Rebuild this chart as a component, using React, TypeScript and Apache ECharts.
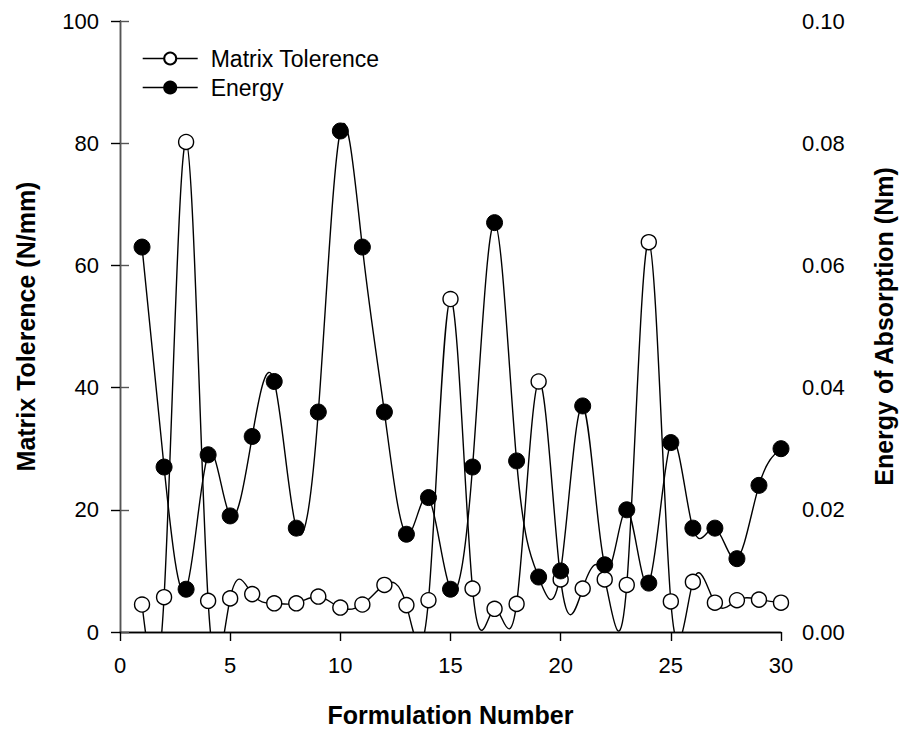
import { useEffect, useRef } from 'react';
import * as echarts from 'echarts';

// Formulation numbers on the x axis
const formulation = [
  1, 2, 3, 4, 5, 6, 7, 8, 9, 10, 11, 12, 13, 14, 15,
  16, 17, 18, 19, 20, 21, 22, 23, 24, 25, 26, 27, 28, 29, 30,
];

// Matrix tolerence (N/mm), left axis
const matrixTolerence = [
  4.5, 5.7, 80.2, 5.1, 5.5, 6.2, 4.7, 4.7, 5.8, 4.0,
  4.5, 7.7, 4.4, 5.2, 54.5, 7.1, 3.8, 4.6, 41.0, 8.6,
  7.1, 8.6, 7.7, 63.8, 5.0, 8.2, 4.8, 5.2, 5.3, 4.8,
];

// Energy of absorption (Nm), right axis
const energy = [
  0.063, 0.027, 0.007, 0.029, 0.019, 0.032, 0.041, 0.017, 0.036, 0.082,
  0.063, 0.036, 0.016, 0.022, 0.007, 0.027, 0.067, 0.028, 0.009, 0.010,
  0.037, 0.011, 0.020, 0.008, 0.031, 0.017, 0.017, 0.012, 0.024, 0.030,
];

const leftTicks = { min: 0, max: 100, interval: 20 };
const rightTicks = { min: 0, max: 0.1, interval: 0.02 };
const xTicks = { min: 0, max: 30, interval: 5 };

const FONT = '"Liberation Sans", Arial, Helvetica, sans-serif';

// Natural cubic spline through the points, returned as one cubic Bezier
// segment per interval: [x0, y0, c1x, c1y, c2x, c2y, x1, y1]
function splineSegments(xs: number[], ys: number[]): number[][] {
  const n = xs.length;
  const h: number[] = [];
  for (let i = 0; i < n - 1; i++) h.push(xs[i + 1] - xs[i]);
  // second derivatives M, with M[0] = M[n-1] = 0
  const M = new Array(n).fill(0);
  const a: number[] = [], b: number[] = [], c: number[] = [], d: number[] = [];
  for (let i = 1; i < n - 1; i++) {
    a.push(h[i - 1]);
    b.push(2 * (h[i - 1] + h[i]));
    c.push(h[i]);
    d.push(6 * ((ys[i + 1] - ys[i]) / h[i] - (ys[i] - ys[i - 1]) / h[i - 1]));
  }
  const m = b.length;
  for (let i = 1; i < m; i++) {
    const w = a[i] / b[i - 1];
    b[i] -= w * c[i - 1];
    d[i] -= w * d[i - 1];
  }
  const sol = new Array(m).fill(0);
  for (let i = m - 1; i >= 0; i--) {
    sol[i] = (d[i] - (i < m - 1 ? c[i] * sol[i + 1] : 0)) / b[i];
  }
  for (let i = 0; i < m; i++) M[i + 1] = sol[i];

  const segs: number[][] = [];
  for (let i = 0; i < n - 1; i++) {
    const hi = h[i];
    const s = (ys[i + 1] - ys[i]) / hi;
    const dL = s - (hi * (2 * M[i] + M[i + 1])) / 6;
    const dR = s + (hi * (M[i] + 2 * M[i + 1])) / 6;
    segs.push([
      xs[i], ys[i],
      xs[i] + hi / 3, ys[i] + (dL * hi) / 3,
      xs[i + 1] - hi / 3, ys[i + 1] - (dR * hi) / 3,
      xs[i + 1], ys[i + 1],
    ]);
  }
  return segs;
}

function curveSeries(ys: number[], yAxisIndex: number) {
  return {
    type: 'custom',
    yAxisIndex,
    clip: true,
    silent: true,
    z: 2,
    data: splineSegments(formulation, ys),
    renderItem: (_params: any, api: any) => {
      const p0 = api.coord([api.value(0), api.value(1)]);
      const c1 = api.coord([api.value(2), api.value(3)]);
      const c2 = api.coord([api.value(4), api.value(5)]);
      const p1 = api.coord([api.value(6), api.value(7)]);
      return {
        type: 'bezierCurve',
        shape: {
          x1: p0[0], y1: p0[1],
          cpx1: c1[0], cpy1: c1[1],
          cpx2: c2[0], cpy2: c2[1],
          x2: p1[0], y2: p1[1],
        },
        style: { stroke: '#000', lineWidth: 1.4, fill: 'none' },
      };
    },
  };
}

export default function App() {
  const ref = useRef<HTMLDivElement>(null);

  useEffect(() => {
    if (!ref.current) return;
    const chart = echarts.init(ref.current, undefined, { renderer: 'svg' });

    const axisLine = { show: true, lineStyle: { color: '#000', width: 1.4 } };
    const axisTick = { show: true, inside: false, length: 9, lineStyle: { color: '#000', width: 1.4 } };
    const labelStyle = { color: '#000', fontFamily: FONT, fontSize: 22 };
    const nameStyle = { color: '#000', fontFamily: FONT, fontSize: 25, fontWeight: 'bold' as const };

    chart.setOption({
      animation: false,
      backgroundColor: '#fff',
      grid: { left: 120, right: 121, top: 21, bottom: 99, outerBoundsMode: 'none' },
      legend: {
        data: ['Matrix Tolerence', 'Energy'],
        orient: 'vertical',
        left: 142,
        top: 47,
        padding: 0,
        itemWidth: 55,
        itemHeight: 15,
        itemGap: 6,
        selectedMode: false,
        lineStyle: { color: '#000', width: 1.4, opacity: 1 },
        textStyle: { color: '#000', fontFamily: FONT, fontSize: 23, padding: [0, 0, 0, 8] },
      },
      xAxis: [
        {
          type: 'value',
          position: 'bottom',
          ...xTicks,
          name: 'Formulation Number',
          nameLocation: 'middle',
          nameGap: 70,
          nameTextStyle: nameStyle,
          axisLine,
          axisTick,
          axisLabel: { ...labelStyle, margin: 22 },
          splitLine: { show: false },
        },
        {
          type: 'value',
          position: 'top',
          ...xTicks,
          axisLine,
          axisTick: { show: false },
          axisLabel: { show: false },
          splitLine: { show: false },
        },
      ],
      yAxis: [
        {
          type: 'value',
          position: 'left',
          ...leftTicks,
          name: 'Matrix Tolerence (N/mm)',
          nameLocation: 'middle',
          nameRotate: 90,
          nameGap: 82,
          nameTextStyle: nameStyle,
          axisLine,
          axisTick,
          axisLabel: { ...labelStyle, margin: 21 },
          splitLine: { show: false },
        },
        {
          type: 'value',
          position: 'right',
          ...rightTicks,
          name: 'Energy of Absorption (Nm)',
          nameLocation: 'middle',
          nameRotate: 90,
          nameGap: 90,
          nameTextStyle: nameStyle,
          axisLine: { show: true, lineStyle: { color: '#555', width: 1.4 } },
          axisTick: { ...axisTick, lineStyle: { color: '#555', width: 1.4 } },
          axisLabel: { ...labelStyle, margin: 21, formatter: (v: number) => v.toFixed(2) },
          splitLine: { show: false },
        },
      ],
      series: [
        curveSeries(matrixTolerence, 0),
        curveSeries(energy, 1),
        {
          name: 'Matrix Tolerence',
          type: 'line',
          yAxisIndex: 0,
          data: formulation.map((x, i) => [x, matrixTolerence[i]]),
          symbol: 'circle',
          symbolSize: 15,
          showAllSymbol: true,
          lineStyle: { opacity: 0 },
          itemStyle: { color: '#fff', borderColor: '#000', borderWidth: 1.4 },
          z: 5,
        },
        {
          name: 'Energy',
          type: 'line',
          yAxisIndex: 1,
          data: formulation.map((x, i) => [x, energy[i]]),
          symbol: 'circle',
          symbolSize: 16,
          showAllSymbol: true,
          lineStyle: { opacity: 0 },
          itemStyle: { color: '#000', borderColor: '#000', borderWidth: 1 },
          z: 6,
        },
      ],
    });

    return () => chart.dispose();
  }, []);

  return (
    <div
      ref={ref}
      style={{ position: 'fixed', left: 0, top: 0, width: 902, height: 731, background: '#fff' }}
    />
  );
}
